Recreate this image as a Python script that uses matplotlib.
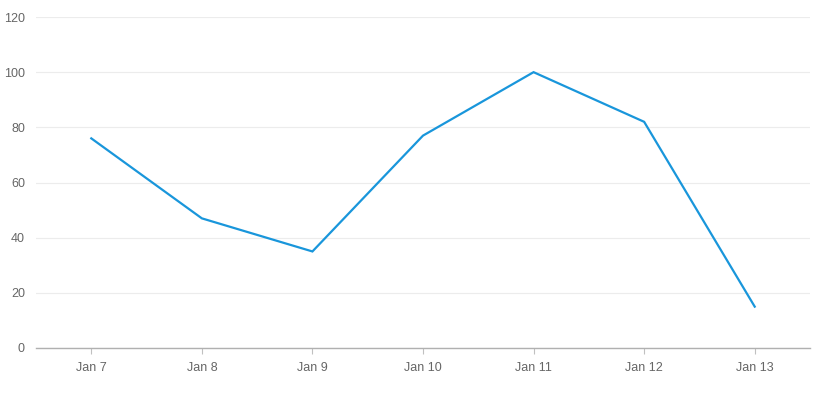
import matplotlib
matplotlib.use("Agg")
import matplotlib.pyplot as plt

categories = ["Jan 7", "Jan 8", "Jan 9", "Jan 10", "Jan 11", "Jan 12", "Jan 13"]
values = [76, 47, 35, 77, 100, 82, 15]
yticks = [0, 20, 40, 60, 80, 100, 120]

plt.rcParams['font.family'] = ['Liberation Sans', 'DejaVu Sans']
fig = plt.figure(figsize=(8.16, 3.93), dpi=100)
ax = fig.add_axes([36/816, 45/393, (810-36)/816, (348-17)/393])

x = list(range(len(categories)))
ax.plot(x, values, color="#1996db", linewidth=1.6, solid_joinstyle="miter")
ax.set_xlim(-0.5, len(categories) - 0.5)
ax.set_ylim(0, 120)
ax.set_yticks(yticks)
ax.set_xticks(x)
ax.set_xticklabels(categories)
ax.grid(axis="y", color="#ececec", linewidth=0.8)
ax.set_axisbelow(True)
for s in ["top", "right", "left"]:
    ax.spines[s].set_visible(False)
ax.spines["bottom"].set_color("#b0b0b0")
ax.spines["bottom"].set_linewidth(1)
ax.tick_params(axis="y", length=0, labelsize=9, labelcolor="#666666", pad=8)
ax.tick_params(axis="x", length=4, color="#c0c0c0", labelsize=9, labelcolor="#666666", pad=6)
fig.savefig("out.png", dpi=100)
